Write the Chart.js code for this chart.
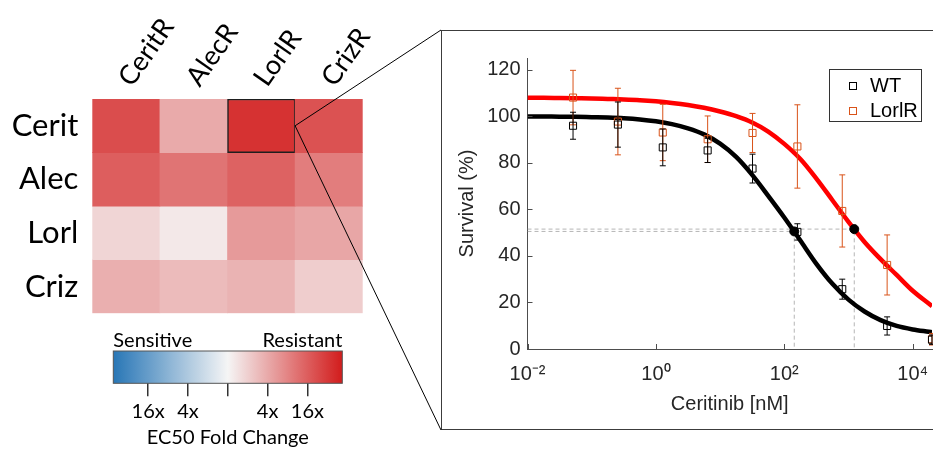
<!DOCTYPE html>
<html>
<head>
<meta charset="utf-8">
<script src="https://cdn.jsdelivr.net/npm/chart.js@4.4.1/dist/chart.umd.min.js"></script>
<style>
  html, body { margin: 0; padding: 0; background: #fff; }
  body { width: 933px; height: 450px; position: relative; overflow: hidden; }
  .abs { position: absolute; }
  #heatWrap  { left: 0; top: 0; width: 372px; height: 320px; }
  #cbarWrap  { left: 90px; top: 325px; width: 270px; height: 125px; }
  #panel     { left: 440.5px; top: 29.5px; width: 600px; height: 400px; box-sizing: border-box; border: 1.5px solid #3c3c3c; }
  #curveWrap { left: 443px; top: 31px; width: 490px; height: 397px; }
  #legend { position: absolute; width: 93px; height: 53px; box-sizing: border-box; border: 1px solid #333;
            background: #fff; font: 20px 'Liberation Sans', Arial, sans-serif; color: #000; padding-top: 3px; }
  .lg-row { position: relative; height: 25px; line-height: 25px; padding-left: 40px; }
  .lg-mark { position: absolute; left: 19px; top: 9px; width: 8px; height: 8px; box-sizing: border-box; border: 1px solid; }
  #links { left: 0; top: 0; width: 933px; height: 450px; pointer-events: none; }
</style>
</head>
<body>
<div id="panel" class="abs"></div>
<div id="heatWrap" class="abs"><canvas id="heat"></canvas></div>
<div id="cbarWrap" class="abs"><canvas id="cbar"></canvas></div>
<div id="curveWrap" class="abs"><canvas id="curve"></canvas></div>
<div id="legend"></div>
<svg id="links" class="abs" xmlns="http://www.w3.org/2000/svg"></svg>

<script>
'use strict';

// ── Heatmap data (log2 EC50 fold change) ───────────────────────────────────────
const HEAT_COLS = ['CeritR', 'AlecR', 'LorlR', 'CrizR'];
const HEAT_ROWS = ['Cerit', 'Alec', 'Lorl', 'Criz'];
const FOLD_CERIT = [4.45, 1.99, 5.17, 4.32];
const FOLD_ALEC  = [4.00, 3.42, 3.89, 3.18];
const FOLD_LORL  = [0.85, 0.35, 2.41, 2.09];
const FOLD_CRIZ  = [1.86, 1.54, 1.75, 1.06];
const HIGHLIGHT = { row: 'Cerit', col: 'LorlR' };

// ── Colour bar ─────────────────────────────────────────────────────────────────
const CBAR_LIMIT = 5.75;
const CBAR_TICKS = [-4, -2, 0, 2, 4];
const CBAR_TICK_LABELS = ['16x', '4x', '', '4x', '16x'];
const CBAR_END_LABELS = ['Sensitive', 'Resistant'];
const CBAR_TITLE = 'EC50 Fold Change';

// ── Dose response (Ceritinib) ──────────────────────────────────────────────────
const DOSES_NM  = [0.0512, 0.256, 1.28, 6.4, 32, 160, 800, 4000, 20000];
const WT_MEAN   = [95.9, 96.4, 86.6, 85.3, 77.5, 50.3, 25.7, 9.9, 4.0];
const WT_ERR    = [5.8, 9.7, 7.9, 5.2, 6.2, 3.5, 4.3, 3.9, 2.0];
const LORL_MEAN = [108.0, 97.7, 93.0, 90.1, 92.8, 87.0, 59.3, 36.1, 4.2];
const LORL_ERR  = [11.7, 14.3, 12.1, 10.0, 8.4, 17.9, 15.5, 12.9, 2.5];

const FIT_LOG_DOSE = [-2, -1.75, -1.5, -1.25, -1, -0.75, -0.5, -0.25, 0, 0.25, 0.5, 0.75, 1, 1.25,
                      1.5, 1.75, 2, 2.25, 2.5, 2.75, 3, 3.25, 3.5, 3.75, 4, 4.25, 4.301];
const WT_FIT   = [99.9, 99.9, 99.8, 99.8, 99.6, 99.4, 99.1, 98.6, 97.8, 96.6, 94.8, 92.2, 88.2, 82.5,
                  74.8, 65.8, 56.5, 46.6, 36.6, 28.0, 21.2, 16.1, 12.4, 9.9, 8.4, 7.4, 7.2];
const LORL_FIT = [107.9, 107.9, 107.8, 107.7, 107.6, 107.4, 107.2, 106.9, 106.4, 105.7, 104.8, 103.6, 102.0, 100.0,
                  97.3, 93.4, 88.1, 81.6, 73.2, 63.9, 54.6, 46.0, 38.6, 31.8, 25.0, 19.5, 18.4];

const EC50_NM   = [143, 1230];
const EC50_SURV = [50.5, 51.5];

const X_MIN = 0.01, X_MAX = 20000;
const X_TICKS = [0.01, 1, 100, 10000];
const X_TICK_LABELS = ['10\u207B\u00B2', '10\u2070', '10\u00B2', '10\u2074'];
const Y_MIN = 0, Y_MAX = 125;
const Y_TICKS = [0, 20, 40, 60, 80, 100, 120];

// ── Style ──────────────────────────────────────────────────────────────────────
const CMAP_LOW  = [40, 118, 182];
const CMAP_MID  = [245, 245, 245];
const CMAP_HIGH = [210, 28, 28];
const ORANGE = '#d95319';
const AXIS = '#4d4d4d';
const TEXT = '#262626';
const GUIDE = '#b5b5b5';
const SANS = "'Liberation Sans', Arial, sans-serif";
const LATO = "Lato, 'Noto Sans', sans-serif";
const COL_LABEL_ANGLE = 55;   // degrees

function cmap(v) {
  const t = Math.max(-1, Math.min(1, v / CBAR_LIMIT));
  const end = t < 0 ? CMAP_LOW : CMAP_HIGH;
  const c = CMAP_MID.map((m, i) => Math.round(m + (end[i] - m) * Math.abs(t)));
  return `rgb(${c.join(',')})`;
}

// fixed axis sizes; drop the extra label overhang chart.js reserves
function fixHeight(h) {
  return s => { s.height = h; s.paddingLeft = 0; s.paddingRight = 0; };
}
function fixWidth(w) {
  return s => { s.width = w; s.paddingTop = 0; s.paddingBottom = 0; };
}

// ── Heatmap ────────────────────────────────────────────────────────────────────

// slanted column labels, anchored on the x scale's category centres
const slantLabels = {
  id: 'slantLabels',
  afterDraw(chart) {
    const { ctx, chartArea: a, scales: { x } } = chart;
    ctx.save();
    ctx.font = `27px ${LATO}`;
    ctx.fillStyle = '#000';
    ctx.textAlign = 'left';
    ctx.textBaseline = 'alphabetic';
    chart.data.labels.forEach((lab, i) => {
      ctx.save();
      ctx.translate(x.getPixelForValue(i) + 6, a.top - 11);
      ctx.rotate(-COL_LABEL_ANGLE * Math.PI / 180);
      ctx.fillText(lab, 0, 0);
      ctx.restore();
    });
    ctx.restore();
  },
};

function buildHeat() {
  const fold = [FOLD_CERIT, FOLD_ALEC, FOLD_LORL, FOLD_CRIZ];
  const n = HEAT_ROWS.length;
  const isHi = (row, col) => row === HIGHLIGHT.row && col === HIGHLIGHT.col;

  return new Chart(document.getElementById('heat'), {
    type: 'bar',
    data: {
      labels: HEAT_COLS,
      datasets: HEAT_ROWS.map((row, r) => ({
        label: row,
        data: HEAT_COLS.map(() => [n - 1 - r, n - r]),
        backgroundColor: fold[r].map(cmap),
        borderColor: HEAT_COLS.map(c => isHi(row, c) ? '#1e1e1e' : 'rgba(0,0,0,0)'),
        borderWidth: HEAT_COLS.map(c => isHi(row, c) ? 1.5 : 0),
        borderSkipped: false,
        grouped: false,
        barPercentage: 1,
        categoryPercentage: 1,
      })),
    },
    options: {
      responsive: true,
      maintainAspectRatio: false,
      animation: false,
      layout: { autoPadding: false, padding: { left: 0, right: 9.3, top: 0, bottom: 6.7 } },
      plugins: { legend: { display: false }, tooltip: { enabled: false } },
      scales: {
        x: {
          position: 'top',
          grid: { display: false, drawTicks: false },
          border: { display: false },
          ticks: { display: false },
          afterFit: fixHeight(99),
        },
        y: { display: false, min: 0, max: n },
        rows: {
          type: 'category',
          labels: HEAT_ROWS,
          position: 'left',
          offset: true,
          grid: { display: false, drawTicks: false },
          border: { display: false },
          ticks: { color: '#000', font: { family: LATO, size: 31 }, padding: 14 },
          afterFit: fixWidth(92.3),
        },
      },
    },
    plugins: [slantLabels],
  });
}

// ── Colour bar ─────────────────────────────────────────────────────────────────

const cbarPaint = {
  id: 'cbarPaint',
  beforeDatasetsDraw(chart) {
    const { ctx, chartArea: a, scales: { x } } = chart;
    const g = ctx.createLinearGradient(a.left, 0, a.right, 0);
    for (let i = 0; i <= 24; i++) {
      g.addColorStop(i / 24, cmap(x.min + (x.max - x.min) * i / 24));
    }
    ctx.save();
    ctx.fillStyle = g;
    ctx.fillRect(a.left, a.top, a.width, a.height);
    ctx.strokeStyle = '#555';
    ctx.lineWidth = 1;
    ctx.strokeRect(a.left, a.top, a.width, a.height);
    ctx.restore();
  },
  afterDraw(chart) {
    const { ctx, chartArea: a } = chart;
    ctx.save();
    ctx.font = `20px ${LATO}`;
    ctx.fillStyle = '#000';
    ctx.textBaseline = 'middle';
    ctx.textAlign = 'left';
    ctx.fillText(CBAR_END_LABELS[0], a.left, a.top - 10);
    ctx.textAlign = 'right';
    ctx.fillText(CBAR_END_LABELS[1], a.right, a.top - 10);
    ctx.restore();
  },
};

function buildCbar() {
  return new Chart(document.getElementById('cbar'), {
    type: 'scatter',
    data: { datasets: [] },
    options: {
      responsive: true,
      maintainAspectRatio: false,
      animation: false,
      layout: { autoPadding: false, padding: { left: 23.3, right: 17.7, top: 26, bottom: 0 } },
      plugins: { legend: { display: false }, tooltip: { enabled: false } },
      scales: {
        x: {
          type: 'linear',
          min: -CBAR_LIMIT,
          max: CBAR_LIMIT,
          afterBuildTicks: s => { s.ticks = CBAR_TICKS.map(v => ({ value: v })); },
          ticks: {
            callback: (v, i) => CBAR_TICK_LABELS[i],
            color: '#000', font: { family: LATO, size: 20 }, padding: 3, maxRotation: 0,
          },
          grid: { drawOnChartArea: false, drawTicks: true, tickLength: 13, color: '#333', lineWidth: 1.5 },
          border: { display: false },
          title: { display: true, text: CBAR_TITLE, color: '#000', font: { family: LATO, size: 20 }, padding: 0 },
          afterFit: fixHeight(66.7),
        },
        y: { display: false, min: 0, max: 1 },
      },
    },
    plugins: [cbarPaint],
  });
}

// ── Dose response ──────────────────────────────────────────────────────────────

const errorBars = {
  id: 'errorBars',
  beforeDatasetDraw(chart, args) {
    const ds = chart.data.datasets[args.index];
    if (!ds.errors) return;
    const { ctx, scales: { x, y } } = chart;
    ctx.save();
    ctx.strokeStyle = ds.borderColor;
    ctx.lineWidth = 1;
    ds.data.forEach((p, i) => {
      const px = x.getPixelForValue(p.x);
      const lo = y.getPixelForValue(p.y - ds.errors[i]);
      const hi = y.getPixelForValue(p.y + ds.errors[i]);
      ctx.beginPath();
      ctx.moveTo(px, lo); ctx.lineTo(px, hi);
      ctx.moveTo(px - 3, lo); ctx.lineTo(px + 3, lo);
      ctx.moveTo(px - 3, hi); ctx.lineTo(px + 3, hi);
      ctx.stroke();
    });
    ctx.restore();
  },
};

const inwardTicks = {
  id: 'inwardTicks',
  afterDraw(chart) {
    const { ctx, chartArea: a, scales: { x, y } } = chart;
    ctx.save();
    ctx.strokeStyle = AXIS;
    ctx.lineWidth = 1;
    ctx.beginPath();
    x.ticks.forEach(t => {
      const px = Math.round(x.getPixelForValue(t.value)) + 0.5;
      ctx.moveTo(px, a.bottom); ctx.lineTo(px, a.bottom - 5);
    });
    y.ticks.forEach(t => {
      const py = Math.round(y.getPixelForValue(t.value)) + 0.5;
      ctx.moveTo(a.left, py); ctx.lineTo(a.left + 5, py);
    });
    ctx.stroke();
    ctx.restore();
  },
};

function guide(dose, surv) {
  return [{ x: X_MIN, y: surv }, { x: dose, y: surv }, { x: dose, y: Y_MIN }];
}

function buildCurve() {
  const fit = vals => FIT_LOG_DOSE.map((lx, i) => ({ x: Math.pow(10, lx), y: vals[i] }));
  const pts = vals => DOSES_NM.map((d, i) => ({ x: d, y: vals[i] }));
  const guideStyle = { showLine: true, borderColor: GUIDE, borderWidth: 1, borderDash: [4, 3], pointRadius: 0, order: 4 };
  const fitStyle = { showLine: true, borderWidth: 4.5, pointRadius: 0, cubicInterpolationMode: 'monotone', order: 3 };
  const markStyle = { pointStyle: 'rect', pointRadius: 5, borderWidth: 1, backgroundColor: 'rgba(0,0,0,0)', order: 1, inLegend: true };

  return new Chart(document.getElementById('curve'), {
    type: 'scatter',
    data: {
      datasets: [
        { label: 'WT EC50 guide', data: guide(EC50_NM[0], EC50_SURV[0]), ...guideStyle },
        { label: 'LorlR EC50 guide', data: guide(EC50_NM[1], EC50_SURV[1]), ...guideStyle },
        { label: 'WT fit', data: fit(WT_FIT), borderColor: '#000', ...fitStyle },
        { label: 'LorlR fit', data: fit(LORL_FIT), borderColor: '#ff0000', ...fitStyle },
        { label: 'WT', data: pts(WT_MEAN), errors: WT_ERR, borderColor: '#000', ...markStyle },
        { label: 'LorlR', data: pts(LORL_MEAN), errors: LORL_ERR, borderColor: ORANGE, ...markStyle },
        {
          label: 'EC50', data: EC50_NM.map((d, i) => ({ x: d, y: EC50_SURV[i] })),
          pointRadius: 4.5, backgroundColor: '#000', borderColor: '#000', order: 0,
        },
      ],
    },
    options: {
      responsive: true,
      maintainAspectRatio: false,
      animation: false,
      layout: { autoPadding: false, padding: { left: 0, right: 1, top: 27, bottom: 0 } },
      plugins: { legend: { display: false }, tooltip: { enabled: false } },
      scales: {
        x: {
          type: 'logarithmic',
          min: X_MIN,
          max: X_MAX,
          afterBuildTicks: s => { s.ticks = X_TICKS.map(v => ({ value: v })); },
          ticks: {
            callback: (v, i) => X_TICK_LABELS[i],
            color: TEXT, font: { family: SANS, size: 20 }, padding: 13, maxRotation: 0,
          },
          grid: { display: false, drawTicks: false },
          border: { display: true, color: AXIS, width: 1 },
          title: { display: true, text: 'Ceritinib [nM]', color: TEXT, font: { family: SANS, size: 20 }, padding: 12 },
          afterFit: fixHeight(79),
        },
        y: {
          min: Y_MIN,
          max: Y_MAX,
          afterBuildTicks: s => { s.ticks = Y_TICKS.map(v => ({ value: v })); },
          ticks: { color: TEXT, font: { family: SANS, size: 20 }, padding: 7 },
          grid: { display: false, drawTicks: false },
          border: { display: true, color: AXIS, width: 1 },
          title: { display: true, text: 'Survival (%)', color: TEXT, font: { family: SANS, size: 20 }, padding: 12 },
          afterFit: fixWidth(84.5),
        },
      },
    },
    plugins: [errorBars, inwardTicks],
  });
}

function buildLegend(chart) {
  const box = document.getElementById('legend');
  chart.data.datasets.filter(d => d.inLegend).forEach(d => {
    const row = document.createElement('div');
    row.className = 'lg-row';
    row.innerHTML = `<span class="lg-mark" style="border-color:${d.borderColor}"></span>${d.label}`;
    box.appendChild(row);
  });
  const a = chart.chartArea;
  const wrap = chart.canvas.parentNode;
  box.style.left = (wrap.offsetLeft + a.right - 10 - box.offsetWidth) + 'px';
  box.style.top = (wrap.offsetTop + a.top + 11) + 'px';
}

// zoom lines from the highlighted cell to the dose-response panel
function drawLinks(heat) {
  const r = HEAT_ROWS.indexOf(HIGHLIGHT.row);
  const c = HEAT_COLS.indexOf(HIGHLIGHT.col);
  const bar = heat.getDatasetMeta(r).data[c];
  const x0 = bar.x + bar.width / 2;
  const y0 = (bar.y + bar.base) / 2;
  const panel = document.getElementById('panel');
  const px = panel.offsetLeft;
  const top = panel.offsetTop;
  const bottom = top + panel.offsetHeight;
  const svg = document.getElementById('links');
  [top, bottom].forEach(y1 => {
    const ln = document.createElementNS('http://www.w3.org/2000/svg', 'line');
    ln.setAttribute('x1', x0); ln.setAttribute('y1', y0);
    ln.setAttribute('x2', px); ln.setAttribute('y2', y1);
    ln.setAttribute('stroke', '#000');
    ln.setAttribute('stroke-width', '1');
    svg.appendChild(ln);
  });
}

// ── Bootstrap ──────────────────────────────────────────────────────────────────

Promise.all([
  document.fonts.load(`30px ${LATO}`),
  document.fonts.load(`20px ${SANS}`),
]).catch(() => {}).then(() => {
  const heat = buildHeat();
  buildCbar();
  const curve = buildCurve();
  buildLegend(curve);
  drawLinks(heat);
});
</script>
</body>
</html>
